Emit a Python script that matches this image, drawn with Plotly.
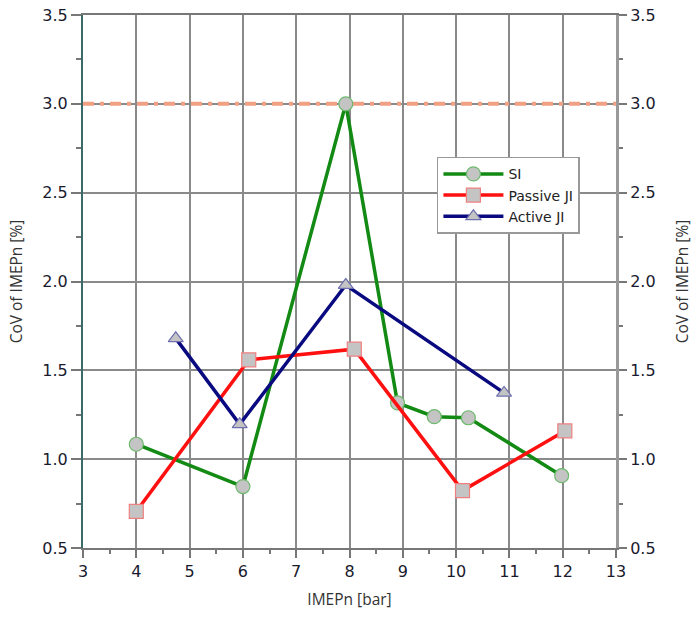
import plotly.graph_objects as go

# Data
si_x = [4.0, 6.0, 7.93, 8.9, 9.59, 10.23, 11.98]
si_y = [1.084, 0.846, 3.0, 1.317, 1.239, 1.233, 0.907]

pj_x = [4.0, 6.11, 8.09, 10.12, 12.04]
pj_y = [0.706, 1.559, 1.619, 0.823, 1.159]

aj_x = [4.74, 5.94, 7.93, 10.9]
aj_y = [1.68, 1.196, 1.98, 1.373]

limit_x = [3, 13]
limit_y = [3.0, 3.0]

x_range = [3, 13]
y_range = [0.5, 3.5]

fig = go.Figure()

fig.add_trace(go.Scatter(
    x=limit_x, y=limit_y, mode="lines", showlegend=False, hoverinfo="skip",
    line=dict(color="#F2A084", width=4, dash="11px,6px,4px,6px")))

fig.add_trace(go.Scatter(
    x=si_x, y=si_y, name="SI", mode="lines+markers",
    line=dict(color="#138A13", width=3.5),
    marker=dict(symbol="circle", color="#C4C4C4", size=14,
                line=dict(color="#6DBA6D", width=1.2))))

fig.add_trace(go.Scatter(
    x=pj_x, y=pj_y, name="Passive JI", mode="lines+markers",
    line=dict(color="#FF1010", width=3.5),
    marker=dict(symbol="square", color="#C4C4C4", size=14,
                line=dict(color="#F08080", width=1.2))))

fig.add_trace(go.Scatter(
    x=aj_x, y=aj_y, name="Active JI", mode="lines+markers",
    line=dict(color="#0A0A80", width=3.5),
    marker=dict(symbol="triangle-up", color="#C4C4C4", size=13,
                line=dict(color="#7070B0", width=1.2))))

# invisible trace to carry right axis
fig.add_trace(go.Scatter(
    x=limit_x, y=limit_y, yaxis="y2", mode="lines", opacity=0,
    showlegend=False, hoverinfo="skip", line=dict(width=0)))

tick_font = dict(family="DejaVu Sans", size=16, color="#1a1a2e")
title_font = dict(family="Open Sans", size=15.5, color="#333333")

fig.update_layout(
    width=693, height=618,
    margin=dict(l=83, r=77, t=15, b=70, autoexpand=False),
    plot_bgcolor="white", paper_bgcolor="white",
    xaxis=dict(
        range=x_range, dtick=1, tick0=3, automargin=False,
        showgrid=True, gridcolor="#8a8a8a", gridwidth=1.5,
        showline=True, linecolor="#777777", linewidth=2, mirror=True,
        ticks="outside", ticklen=8, tickcolor="#777777", tickwidth=1.5,
        minor=dict(dtick=0.5, ticks="outside", ticklen=4, tickcolor="#777777", showgrid=False),
        tickfont=tick_font,
        title=dict(text="IMEPn [bar]", font=title_font, standoff=14),
        zeroline=False,
    ),
    yaxis=dict(
        range=y_range, dtick=0.5, tick0=0.5, tickformat=".1f", automargin=False,
        showgrid=True, gridcolor="#8a8a8a", gridwidth=1.5,
        showline=True, linecolor="#3a6a6a", linewidth=2,
        ticks="outside", ticklen=10, tickcolor="#777777", tickwidth=1.5,
        minor=dict(dtick=0.25, ticks="outside", ticklen=5, tickcolor="#777777", showgrid=False),
        tickfont=tick_font,
        title=dict(text="CoV of IMEPn [%]", font=title_font, standoff=16),
        zeroline=False,
    ),
    yaxis2=dict(
        range=y_range, dtick=0.5, tick0=0.5, tickformat=".1f", automargin=False,
        overlaying="y", side="right", showgrid=False,
        showline=True, linecolor="#999999", linewidth=3,
        ticks="outside", ticklen=8, tickcolor="#777777", tickwidth=1.5,
        minor=dict(dtick=0.25, ticks="outside", ticklen=4, tickcolor="#777777"),
        tickfont=tick_font,
        title=dict(text="CoV of IMEPn [%]", font=title_font, standoff=30),
        zeroline=False,
    ),
    legend=dict(
        x=0.664, y=0.734, xanchor="left", yanchor="top",
        bgcolor="white", bordercolor="#999999", borderwidth=1.5,
        font=dict(family="DejaVu Sans", size=14, color="#222222"),
        itemwidth=60, tracegroupgap=2,
    ),
    showlegend=True,
)

fig.write_html("out.html")
